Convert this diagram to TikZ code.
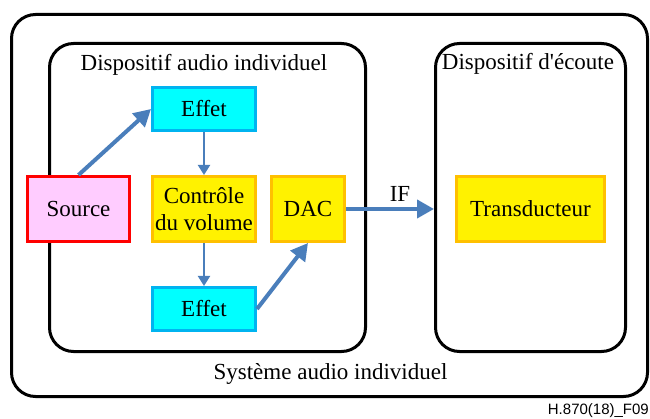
\documentclass[tikz,border=0pt]{standalone}
\usepackage{fontspec}
\setmainfont{Liberation Serif}
\newfontfamily\refsans{Liberation Sans}
\usetikzlibrary{arrows.meta}

\definecolor{fleche}{RGB}{74,126,187}
\definecolor{effetfond}{RGB}{0,255,255}
\definecolor{effetbord}{RGB}{0,180,240}
\definecolor{srcfond}{RGB}{255,204,255}
\definecolor{jaunebord}{RGB}{255,192,0}

\tikzset{
	boite/.style={draw, line width=3pt, inner sep=0pt, align=center,
		font=\fontsize{23}{27}\selectfont},
	effetbox/.style={boite, draw=effetbord, fill=effetfond, minimum width=103, minimum height=43},
	srcbox/.style={boite, draw=red, fill=srcfond, minimum width=102, minimum height=65},
	jaune/.style={boite, draw=jaunebord, fill=yellow, minimum height=65},
	cadre/.style={draw, line width=3pt, rounded corners=24pt, inner sep=0pt},
	titre/.style={anchor=base, inner sep=0pt, font=\fontsize{23}{27}\selectfont},
	grosse/.style={draw=fleche, line width=4pt, -{Triangle[length=17pt,width=18pt]}},
	fine/.style={draw=fleche, line width=2pt, -{Triangle[length=10pt,width=12pt]}}
}

\begin{document}
\begin{tikzpicture}[x=1pt,y=-1pt]
	\useasboundingbox (0,0) rectangle (650,419);
	% cadres
	\node[cadre, minimum width=636, minimum height=382] (systeme) at (329.5,205.5) {};
	\node[cadre, minimum width=316, minimum height=308] (dispositif) at (207.5,197.5) {};
	\node[cadre, minimum width=190, minimum height=308] (ecoute) at (530.5,197.5) {};
	\node[titre] (tdispositif) at (204,71) {Dispositif audio individuel};
	\node[titre] (tecoute) at (528,70) {Dispositif d\textquotesingle\'ecoute};
	\node[titre] (tsysteme) at (330.5,379) {Syst\`eme audio individuel};
	% blocs
	\node[effetbox] (effetA) at (204,109) {Effet};
	\node[srcbox] (source) at (78.5,209) {Source};
	\node[jaune, minimum width=103] (volume) at (204,209) {Contr\^ole\\du volume};
	\node[jaune, minimum width=73] (dac) at (308,209) {DAC};
	\node[jaune, minimum width=148] (transd) at (530.5,209) {Transducteur};
	\node[effetbox] (effetB) at (204,309) {Effet};
	% fleches
	\draw[grosse] (source.north) -- (effetA.west);
	\draw[fine] (effetA) -- (volume);
	\draw[fine] (volume) -- (effetB);
	\draw[grosse] (effetB.east) -- (dac.south);
	\draw[grosse] (dac) -- (dac -| ecoute.west);
	\node[titre] (tif) at (400,202) {IF};
	\node[anchor=base east, inner sep=0pt, font=\refsans\fontsize{15}{17}\selectfont] (ref) at (649,414) {H.870(18)\_F09};
\end{tikzpicture}
\end{document}
